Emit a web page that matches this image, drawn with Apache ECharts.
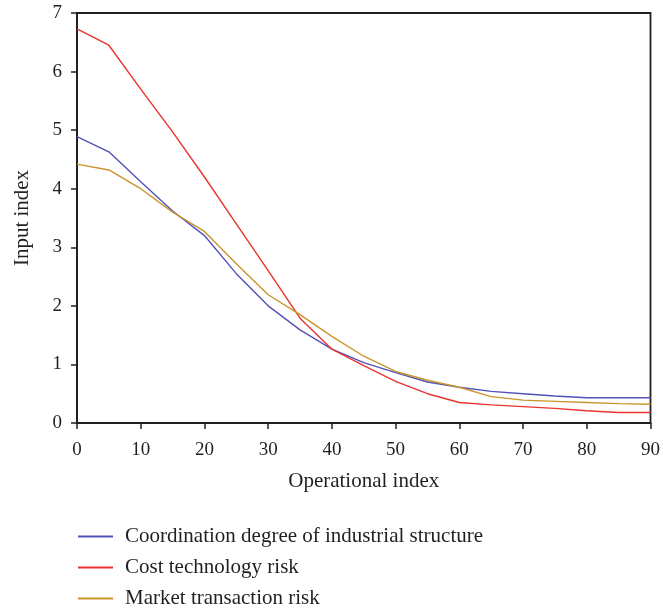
<!DOCTYPE html>
<html>
<head>
<meta charset="utf-8">
<script src="https://cdn.jsdelivr.net/npm/echarts@6/dist/echarts.min.js"></script>
<style>
  html, body { margin: 0; padding: 0; background: #fff; }
  #chart { width: 663px; height: 614px; }
</style>
</head>
<body>
<div id="chart"></div>
<script>
// Operational index sampled every 5 units
const operationalIndex = [0, 5, 10, 15, 20, 25, 30, 35, 40, 45, 50, 55, 60, 65, 70, 75, 80, 85, 90];

const coordinationDegree = [4.89, 4.63, 4.12, 3.62, 3.20, 2.55, 2.00, 1.59, 1.26, 1.03, 0.86, 0.70, 0.61, 0.54, 0.50, 0.46, 0.43, 0.43, 0.43];
const costTechnologyRisk = [6.73, 6.45, 5.70, 4.97, 4.20, 3.40, 2.60, 1.79, 1.26, 0.98, 0.71, 0.50, 0.35, 0.31, 0.28, 0.25, 0.21, 0.18, 0.18];
const marketTransactionRisk = [4.42, 4.32, 4.00, 3.60, 3.27, 2.72, 2.19, 1.85, 1.48, 1.14, 0.88, 0.73, 0.61, 0.45, 0.39, 0.37, 0.35, 0.33, 0.32];

const seriesNames = [
  'Coordination degree of industrial structure',
  'Cost technology risk',
  'Market transaction risk'
];
const seriesColors = ['#5252b8', '#e8332f', '#c8952a'];

const pairs = (ys) => operationalIndex.map((x, i) => [x, ys[i]]);

const font = 'Liberation Serif';
const ink = '#231f20';

const chart = echarts.init(document.getElementById('chart'));
chart.setOption({
  animation: false,
  backgroundColor: '#fff',
  textStyle: { fontFamily: font, color: ink },
  grid: {
    left: 77, right: 10, top: 13, bottom: 191,
    show: true, borderColor: ink, borderWidth: 1.8, backgroundColor: 'transparent'
  },
  legend: {
    orient: 'vertical',
    left: 78, top: 526,
    padding: 0,
    itemWidth: 35, itemHeight: 2, itemGap: 10,
    icon: 'rect',
    textStyle: { fontFamily: font, fontSize: 21, color: ink, padding: [0, 0, 0, 7] },
    data: seriesNames
  },
  xAxis: {
    type: 'value',
    min: 0, max: 90, interval: 10,
    name: 'Operational index',
    nameLocation: 'middle',
    nameGap: 48,
    nameTextStyle: { fontFamily: font, fontSize: 21, color: ink },
    axisLine: { show: true, lineStyle: { color: ink, width: 1.8 } },
    axisTick: { show: true, length: 6, lineStyle: { color: ink, width: 1.5 } },
    axisLabel: { fontFamily: font, fontSize: 19, color: ink, margin: 18 },
    splitLine: { show: false }
  },
  yAxis: {
    type: 'value',
    min: 0, max: 7, interval: 1,
    name: 'Input index',
    nameLocation: 'middle',
    nameGap: 44,
    nameRotate: 90,
    nameTextStyle: { fontFamily: font, fontSize: 21, color: ink },
    axisLine: { show: true, lineStyle: { color: ink, width: 1.8 } },
    axisTick: { show: true, length: 6, lineStyle: { color: ink, width: 1.5 } },
    axisLabel: { fontFamily: font, fontSize: 19, color: ink, margin: 15 },
    splitLine: { show: false }
  },
  series: [coordinationDegree, costTechnologyRisk, marketTransactionRisk].map((ys, i) => ({
    name: seriesNames[i],
    type: 'line',
    data: pairs(ys),
    showSymbol: false,
    symbol: 'none',
    lineStyle: { color: seriesColors[i], width: 1.4 },
    itemStyle: { color: seriesColors[i] }
  }))
});
</script>
</body>
</html>
